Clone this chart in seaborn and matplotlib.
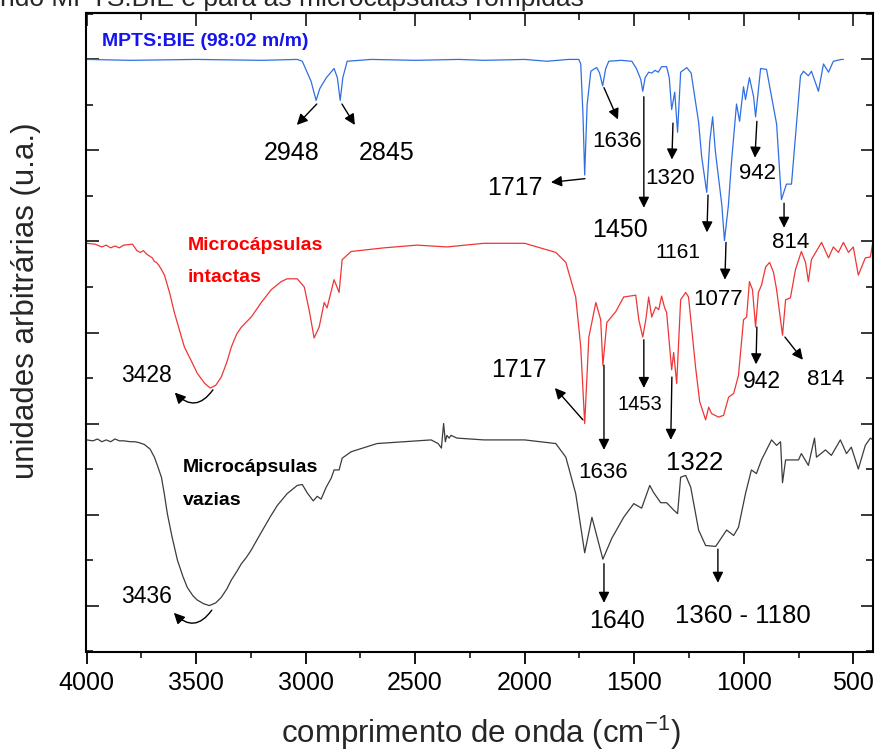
import matplotlib
matplotlib.use("Agg")
import matplotlib.pyplot as plt
import seaborn as sns
import pandas as pd
from matplotlib.ticker import MultipleLocator

# ---------------- data (wavenumber cm-1, arbitrary units) ----------------
wn_mpts = [4000, 3800, 3500, 3200, 3038, 3015, 2975, 2952, 2935, 2905, 2870, 2855, 2842, 2830,
           2810, 2700, 2500, 2300, 2186, 2000, 1899, 1800, 1753, 1744, 1734, 1726, 1715, 1698,
           1680, 1671, 1658, 1644, 1630, 1616, 1560, 1511, 1490, 1470, 1461, 1450, 1434, 1420,
           1405, 1390, 1375, 1352, 1340, 1329, 1315, 1302, 1288, 1260, 1240, 1206, 1192, 1169,
           1155, 1142, 1130, 1100, 1088, 1070, 1056, 1033, 1019, 1001, 992, 974, 955, 946, 923,
           896, 873, 850, 828, 805, 782, 741, 727, 705, 691, 659, 636, 613, 591, 554, 545]
ua_mpts = [6.00, 5.99, 6.00, 5.99, 6.00, 5.98, 5.76, 5.55, 5.68, 5.80, 5.90, 5.80, 5.55, 5.80,
           5.98, 6.00, 5.99, 6.00, 5.99, 6.00, 5.98, 6.00, 6.00, 5.95, 5.40, 4.73, 5.50, 5.87,
           5.90, 5.91, 5.85, 5.71, 5.90, 5.98, 5.99, 5.98, 5.90, 5.78, 5.65, 5.80, 5.86, 5.85,
           5.88, 5.86, 5.92, 5.92, 5.80, 5.45, 5.64, 5.20, 5.86, 5.91, 5.85, 5.31, 4.93, 4.54,
           5.10, 5.37, 5.00, 4.40, 4.01, 4.40, 4.87, 5.51, 5.32, 5.70, 5.56, 5.80, 5.59, 5.37, 5.90,
           5.89, 5.59, 5.29, 4.46, 4.63, 4.63, 5.82, 5.87, 5.82, 5.87, 5.65, 5.95, 5.86, 5.98, 6.00, 6.00]

wn_intact = [4000, 3960, 3930, 3910, 3890, 3870, 3850, 3830, 3790, 3770, 3755, 3740, 3725, 3700,
             3690, 3681, 3670, 3660, 3644, 3620, 3599, 3575, 3553, 3520, 3494, 3460, 3435, 3410,
             3385, 3360, 3339, 3315, 3293, 3248, 3202,
             3157, 3111, 3084, 3038, 3006, 2984, 2961, 2938, 2915, 2902, 2870, 2847, 2833, 2792,
             2642, 2491, 2355, 2186, 2000, 1858, 1812, 1767, 1744, 1726, 1707, 1675, 1653, 1643,
             1625, 1584, 1548, 1493, 1479, 1461, 1447, 1434, 1420, 1402, 1388, 1375, 1361, 1352,
             1329, 1320, 1306, 1288, 1265, 1252, 1220, 1201, 1174, 1160, 1147, 1115, 1092, 1069,
             1046, 1024, 1001, 987, 974, 960, 946, 933, 919, 900, 882, 864, 850, 823, 809, 787,
             764, 737, 718, 705, 691, 645, 613, 591, 568, 545, 522, 500, 477, 445, 422, 410]
ua_intact = [3.98, 3.97, 3.94, 3.96, 3.93, 3.95, 3.93, 3.96, 3.97, 3.90, 3.88, 3.90, 3.86, 3.82,
             3.78, 3.77, 3.74, 3.70, 3.63, 3.43, 3.22, 3.02, 2.84, 2.68, 2.55, 2.44, 2.39, 2.42,
             2.51, 2.67, 2.84, 2.98, 3.06, 3.17, 3.33,
             3.47, 3.56, 3.59, 3.59, 3.50, 3.25, 2.94, 3.06, 3.33, 3.27, 3.58, 3.44, 3.80, 3.89,
             3.93, 3.96, 3.94, 3.98, 3.98, 3.88, 3.77, 3.39, 2.84, 2.00, 2.95, 3.33, 3.14, 2.64,
             3.11, 3.23, 3.39, 3.41, 3.14, 2.95, 3.14, 3.39, 3.17, 3.28, 3.25, 3.40, 3.27, 3.22,
             2.59, 2.78, 2.44, 3.36, 3.44, 3.39, 2.62, 2.24, 2.04, 2.18, 2.11, 2.07, 2.09, 2.29,
             2.33, 2.53, 3.14, 3.17, 3.56, 3.47, 3.06, 3.44, 3.52, 3.72, 3.77, 3.66, 3.47, 2.97,
             3.36, 3.38, 3.69, 3.89, 3.77, 3.56, 3.80, 3.99, 3.82, 3.94, 3.88, 3.99, 3.88, 3.94,
             3.63, 3.82, 3.83, 4.00]

wn_empty = [4000, 3970, 3950, 3930, 3910, 3890, 3870, 3850, 3830, 3800, 3780, 3760, 3736, 3710,
            3690, 3675, 3658, 3645, 3631, 3610, 3585, 3560, 3540, 3515, 3494, 3465, 3439, 3410,
            3385, 3360, 3339, 3315, 3293, 3270, 3248, 3220, 3189, 3160, 3129, 3084, 3038,
            3015, 2993, 2965, 2947, 2929, 2906, 2883, 2870, 2847, 2833, 2792, 2674, 2551, 2427,
            2395, 2380, 2370, 2362, 2355, 2345, 2336, 2309, 2186, 2000, 1858, 1812, 1767, 1726,
            1693, 1643, 1602, 1548, 1502, 1466, 1429, 1411, 1379, 1352, 1320, 1302, 1288, 1265,
            1242, 1206, 1174, 1128, 1078, 1046, 1024, 992, 965, 942, 919, 873, 850, 832, 823,
            809, 750, 737, 705, 677, 668, 627, 600, 559, 531, 509, 477, 445, 422, 410]
ua_empty = [1.82, 1.81, 1.83, 1.80, 1.82, 1.80, 1.83, 1.81, 1.81, 1.80, 1.80, 1.79, 1.77, 1.72,
            1.63, 1.53, 1.41, 1.23, 1.01, 0.76, 0.50, 0.32, 0.20, 0.11, 0.06, 0.02, 0.00, 0.03,
            0.09, 0.18, 0.28, 0.37, 0.46, 0.53, 0.61, 0.73, 0.86, 0.98, 1.10, 1.23, 1.32,
            1.33, 1.24, 1.15, 1.20, 1.17, 1.30, 1.40, 1.49, 1.49, 1.62, 1.69, 1.78, 1.80, 1.82,
            1.78, 1.73, 2.00, 1.80, 1.87, 1.84, 1.87, 1.84, 1.82, 1.82, 1.78, 1.63, 1.23, 0.58,
            0.97, 0.51, 0.74, 0.97, 1.12, 1.07, 1.32, 1.24, 1.13, 1.13, 1.05, 1.01, 1.41, 1.43,
            1.30, 0.83, 0.66, 0.65, 0.83, 0.77, 0.86, 1.23, 1.49, 1.45, 1.60, 1.82, 1.76, 1.80,
            1.35, 1.60, 1.60, 1.67, 1.54, 1.84, 1.63, 1.71, 1.65, 1.82, 1.67, 1.74, 1.50, 1.76,
            1.84, 1.82]

x_ticks = [4000, 3500, 3000, 2500, 2000, 1500, 1000, 500]
x_tick_labels = ["4000", "3500", "3000", "2500", "2000", "1500", "1000", "500"]

# peak labels: text, (text x, text baseline y), arrow tail, arrow head, font size
peak_labels = [
    ("2948", 3063, 4.90, 2949, 5.51, 3040, 5.28, 18),
    ("2845", 2629, 4.90, 2834, 5.51, 2775, 5.28, 18),
    ("1717", 2045, 4.51, 1725, 4.69, 1880, 4.65, 18),
    ("1636", 1579, 5.04, 1638, 5.69, 1574, 5.34, 16),
    ("1450", 1565, 4.05, 1456, 5.59, 1456, 4.37, 18),
    ("1320", 1337, 4.63, 1323, 5.30, 1328, 4.90, 16),
    ("1161", 1300, 3.82, 1163, 4.51, 1168, 4.10, 15),
    ("1077", 1118, 3.30, 1081, 3.99, 1086, 3.58, 16),
    ("942", 935, 4.69, 940, 5.32, 949, 4.92, 16),
    ("814", 784, 3.93, 816, 4.42, 816, 4.15, 16),
    ("1717", 2026, 2.51, 1734, 2.04, 1862, 2.39, 18),
    ("1636", 1643, 1.40, 1638, 2.64, 1638, 1.71, 16),
    ("1453", 1474, 2.15, 1456, 2.92, 1456, 2.39, 14.5),
    ("1322", 1223, 1.49, 1328, 2.51, 1333, 1.82, 18.5),
    ("942", 917, 2.39, 940, 3.06, 944, 2.65, 16.5),
    ("814", 625, 2.42, 812, 2.95, 730, 2.70, 16),
    ("1640", 1579, -0.25, 1638, 0.46, 1638, 0.03, 18),
    ("1360 - 1180", 1004, -0.19, 1118, 0.62, 1118, 0.25, 18.5),
]
# OH band labels with curved arrows
oh_labels = [
    ("3428", 3725, 2.46, 3423, 2.37, 3597, 2.34),
    ("3436", 3725, 0.03, 3428, -0.05, 3601, -0.08),
]

# ---------------- plot ----------------
sns.set_style("ticks")
plt.rcParams["font.family"] = ["Liberation Sans", "DejaVu Sans"]

fig = plt.figure(figsize=(8.79, 7.54), dpi=100)
ax = fig.add_axes([86.5 / 879, 1 - 652 / 754, (873 - 86.5) / 879, (652 - 13) / 754])

df_m = pd.DataFrame({"wn": wn_mpts, "ua": ua_mpts})
df_i = pd.DataFrame({"wn": wn_intact, "ua": ua_intact})
df_e = pd.DataFrame({"wn": wn_empty, "ua": ua_empty})

sns.lineplot(data=df_m, x="wn", y="ua", ax=ax, color="#2f6fe2", lw=0.9, estimator=None)
sns.lineplot(data=df_i, x="wn", y="ua", ax=ax, color="#f03535", lw=0.9, estimator=None)
sns.lineplot(data=df_e, x="wn", y="ua", ax=ax, color="#3c3c3c", lw=0.9, estimator=None)

ax.set_xlim(4000, 410)
ax.set_ylim(-0.51, 6.51)

ax.set_xticks(x_ticks)
ax.set_xticklabels(x_tick_labels, fontsize=18)
ax.xaxis.set_minor_locator(MultipleLocator(250))
ax.yaxis.set_major_locator(MultipleLocator(1))
ax.yaxis.set_minor_locator(MultipleLocator(0.5))
ax.set_yticklabels([])

for s in ax.spines.values():
    s.set_visible(True)
    s.set_linewidth(1.5)
    s.set_color("black")

ax.tick_params(axis="x", which="major", direction="out", length=8.5, width=1.3, pad=5,
               bottom=True, top=False, colors="black")
ax.tick_params(axis="x", which="minor", direction="out", length=4, width=1.3, bottom=True, top=False)
ax.tick_params(axis="y", which="major", direction="in", length=9, width=1.3, left=True, right=True,
               labelleft=False)
ax.tick_params(axis="y", which="minor", direction="in", length=5, width=1.3, left=True, right=True)

top = ax.secondary_xaxis("top")
top.set_xticks(x_ticks)
top.xaxis.set_minor_locator(MultipleLocator(250))
top.tick_params(axis="x", which="major", direction="in", length=9, width=1.3, labeltop=False)
top.tick_params(axis="x", which="minor", direction="in", length=5, width=1.3)
top.spines["top"].set_linewidth(1.5)

ax.set_xlabel("")
ax.set_ylabel("")
fig.text(481 / 879, 1 - 743 / 754, "comprimento de onda (cm$^{\\mathregular{-1}}$)", ha="center",
         va="baseline", fontsize=22.5)
fig.text(26 / 879, 1 - 301 / 754, "unidades arbitrárias (u.a.)", rotation=90, ha="center",
         va="center", fontsize=22.5)

# cut-off caption at top
fig.text(0.0, 1 - 6 / 754, "ndo MPTS:BIE e para as microcápsulas rompidas", ha="left",
         va="baseline", fontsize=19)

# series names
ax.text(3930, 6.15, "MPTS:BIE (98:02 m/m)", color="#1414ee", fontweight="bold", fontsize=14,
        ha="left", va="baseline")
ax.text(3538, 3.91, "Microcápsulas", color="#ff0000", fontweight="bold", fontsize=14,
        ha="left", va="baseline")
ax.text(3538, 3.55, "intactas", color="#ff0000", fontweight="bold", fontsize=14,
        ha="left", va="baseline")
ax.text(3560, 1.47, "Microcápsulas", color="black", fontweight="bold", fontsize=14,
        ha="left", va="baseline")
ax.text(3560, 1.10, "vazias", color="black", fontweight="bold", fontsize=14,
        ha="left", va="baseline")

arrow_kw = dict(arrowstyle="-|>", color="black", lw=1.0, mutation_scale=16, shrinkA=0, shrinkB=0)
for txt, tx, ty, ax0, ay0, ax1, ay1, fs in peak_labels:
    ax.text(tx, ty, txt, ha="center", va="baseline", fontsize=fs, color="black")
    ax.annotate("", xy=(ax1, ay1), xytext=(ax0, ay0), arrowprops=arrow_kw)

for txt, tx, ty, ax0, ay0, ax1, ay1 in oh_labels:
    ax.text(tx, ty, txt, ha="center", va="baseline", fontsize=16.5, color="black")
    ax.annotate("", xy=(ax1, ay1), xytext=(ax0, ay0),
                arrowprops=dict(arrowstyle="-|>", color="black", lw=1.0, mutation_scale=16,
                                shrinkA=0, shrinkB=0, connectionstyle="arc3,rad=-0.6"))

fig.savefig("out.png", dpi=100)
